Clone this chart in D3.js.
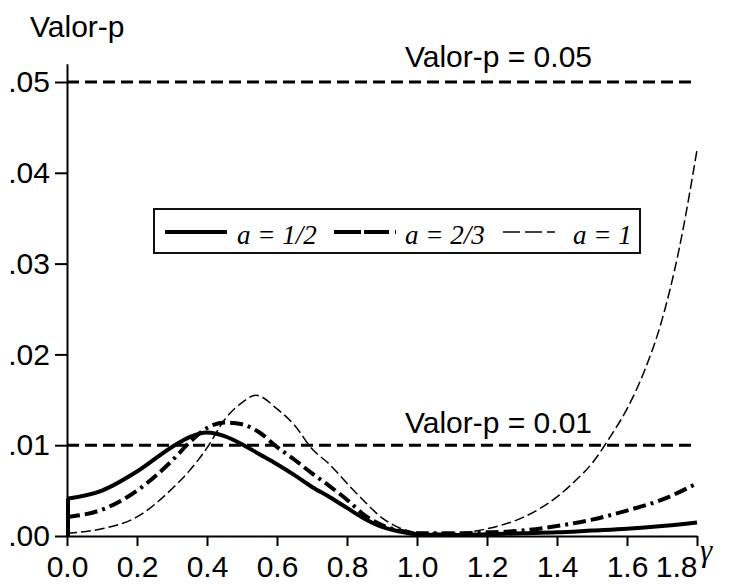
<!DOCTYPE html>
<html>
<head>
<meta charset="utf-8">
<script src="https://cdn.jsdelivr.net/npm/d3@7"></script>
<style>
  body { margin: 0; background: #fff; }
  svg { display: block; }
  .axis text { font-family: 'Liberation Sans', Arial, sans-serif; font-size: 30px; fill: #000; }
  .axis path, .axis line { stroke: #000; stroke-width: 2px; }
  .label { font-family: 'Liberation Sans', Arial, sans-serif; font-size: 30px; fill: #000; }
  .legend text { font-family: 'Liberation Serif', 'Times New Roman', serif; font-style: italic; font-size: 27px; fill: #000; }
</style>
</head>
<body>
<svg id="chart" width="738" height="584"></svg>
<script>
/*
  P-VALUE CURVES
  p-value as a function of gamma for three values of a,
  with the 0.05 and 0.01 reference levels
*/

// [gamma, p-value]
const seriesHalf = [
  [0, 0.0041], [0.1, 0.0050], [0.2, 0.0071], [0.3, 0.0098],
  [0.35, 0.0109], [0.4, 0.0114], [0.45, 0.0110], [0.5, 0.0101], [0.55, 0.0090],
  [0.6, 0.0079], [0.65, 0.0067], [0.7, 0.0054], [0.75, 0.0043], [0.8, 0.0031],
  [0.85, 0.0019], [0.9, 0.0010], [0.95, 0.0005], [1.0, 0.0002], [1.1, 0.0001],
  [1.2, 0.0002], [1.3, 0.0003], [1.4, 0.0004], [1.5, 0.0006], [1.6, 0.0008],
  [1.7, 0.0011], [1.8, 0.0015]
];

const seriesTwoThirds = [
  [0, 0.0021], [0.1, 0.0029], [0.2, 0.0050], [0.3, 0.0083],
  [0.35, 0.0103], [0.4, 0.0119], [0.45, 0.0125], [0.5, 0.0123], [0.55, 0.0114],
  [0.6, 0.0098], [0.65, 0.0084], [0.7, 0.0069], [0.75, 0.0055], [0.8, 0.0040],
  [0.85, 0.0023], [0.9, 0.0012], [0.95, 0.0006], [1.0, 0.0003], [1.1, 0.0003],
  [1.2, 0.0004], [1.3, 0.0006], [1.4, 0.0011], [1.5, 0.0018], [1.6, 0.0028],
  [1.7, 0.0040], [1.8, 0.0058]
];

const seriesOne = [
  [0, 0.0003], [0.1, 0.0008], [0.2, 0.0021], [0.3, 0.0052], [0.35, 0.0072],
  [0.4, 0.0097], [0.45, 0.0128], [0.5, 0.0147], [0.54, 0.0155], [0.6, 0.0140],
  [0.65, 0.0122], [0.7, 0.0096], [0.75, 0.0079], [0.8, 0.0058], [0.85, 0.0038],
  [0.9, 0.0020], [0.95, 0.0009], [1.0, 0.0004], [1.1, 0.0003], [1.2, 0.0008],
  [1.3, 0.0020], [1.35, 0.0030], [1.4, 0.0043], [1.45, 0.0060], [1.5, 0.0080],
  [1.55, 0.0108], [1.6, 0.0140], [1.65, 0.0182], [1.7, 0.0238], [1.75, 0.0318],
  [1.8, 0.0425]
];

const xTicks = [0, 0.2, 0.4, 0.6, 0.8, 1.0, 1.2, 1.4, 1.6, 1.8];
const yTicks = [0, 0.01, 0.02, 0.03, 0.04, 0.05];
const refLevels = [0.05, 0.01];
const refLabels = ['Valor-p = 0.05', 'Valor-p = 0.01'];
const legendLabels = ['a = 1/2', 'a = 2/3', 'a = 1'];

const margin = { left: 67, right: 41 };
const WIDTH = 738;

/**
 * Scales
 */
const scale = {};
scale.x = d3.scaleLinear()
  .domain([0, 1.8])
  .range([margin.left, WIDTH - margin.right]);

scale.y = d3.scaleLinear()
  .domain([0, 0.052])
  .range([536, 536 - 0.052 * 9080]);

const dom = {};
dom.svg = d3.select('#chart');

/*
 * Axes
 */
const axis = {};
axis.x = d3.axisBottom(scale.x)
  .tickValues(xTicks)
  .tickSize(10)
  .tickSizeOuter(0)
  .tickPadding(10)
  .tickFormat(d3.format('.1f'));

axis.y = d3.axisLeft(scale.y)
  .tickValues(yTicks)
  .tickSize(12)
  .tickSizeOuter(0)
  .tickPadding(5)
  .tickFormat(d => d3.format('.2f')(d).replace(/^0/, ''));

dom.xAxis = dom.svg.append('g')
  .attr('class', 'axis')
  .attr('transform', `translate(0, ${scale.y(0)})`)
  .call(axis.x);

// last label sits inside the axis end, as in the original
dom.xAxis.selectAll('.tick text')
  .filter(d => d === 1.8)
  .attr('text-anchor', 'end');

dom.yAxis = dom.svg.append('g')
  .attr('class', 'axis')
  .attr('transform', `translate(${margin.left}, 0)`)
  .call(axis.y);

dom.svg.selectAll('.axis .domain').attr('fill', 'none');

// axis titles
dom.svg.append('text')
  .attr('class', 'label')
  .attr('x', 30)
  .attr('y', 37)
  .text('Valor-p');

dom.svg.append('text')
  .attr('x', 700)
  .attr('y', 561)
  .attr('font-family', "'Liberation Serif', serif")
  .attr('font-style', 'italic')
  .attr('font-size', 31)
  .text('γ');

/*
 * Reference levels
 */
dom.svg.selectAll('.ref')
  .data(refLevels)
  .join('line')
  .attr('class', 'ref')
  .attr('x1', scale.x(0))
  .attr('x2', scale.x(1.8))
  .attr('y1', d => scale.y(d))
  .attr('y2', d => scale.y(d))
  .attr('stroke', '#000')
  .attr('stroke-width', 3)
  .attr('stroke-dasharray', '12,6');

dom.svg.selectAll('.refLabel')
  .data(refLevels)
  .join('text')
  .attr('class', 'label refLabel')
  .attr('x', 592)
  .attr('y', (d, i) => scale.y(d) - (i === 0 ? 15 : 12))
  .attr('text-anchor', 'end')
  .text((d, i) => refLabels[i]);

/*
 * Curves
 */
const line = d3.line()
  .x(d => scale.x(d[0]))
  .y(d => scale.y(d[1]))
  .curve(d3.curveMonotoneX);

const styles = [
  { width: 4, dash: null, legendDash: null },
  { width: 4, dash: '13,5,13,5,3,5', legendDash: '27,3,25,6,4,100' },
  { width: 1.5, dash: '10,4', legendDash: '17,5' }
];

[seriesHalf, seriesTwoThirds, seriesOne].forEach((s, i) => {
  // drop from the first value down to zero at gamma = 0
  dom.svg.append('line')
    .attr('x1', scale.x(s[0][0]) + 1)
    .attr('x2', scale.x(s[0][0]) + 1)
    .attr('y1', scale.y(0))
    .attr('y2', scale.y(s[0][1]))
    .attr('stroke', '#000')
    .attr('stroke-width', styles[i].width);

  dom.svg.append('path')
    .datum(s)
    .attr('d', line)
    .attr('fill', 'none')
    .attr('stroke', '#000')
    .attr('stroke-width', styles[i].width)
    .attr('stroke-dasharray', styles[i].dash);
});

/*
 * Legend
 */
dom.legend = dom.svg.append('g').attr('class', 'legend');

dom.legend.append('rect')
  .attr('x', 154)
  .attr('y', 209)
  .attr('width', 486)
  .attr('height', 44)
  .attr('fill', '#fff')
  .attr('stroke', '#111')
  .attr('stroke-width', 2);

const legendX = [165, 334, 503];
const legendLen = [62, 62, 52];
const legendTextX = [237, 405, 573];

legendLabels.forEach((lab, i) => {
  dom.legend.append('line')
    .attr('x1', legendX[i])
    .attr('x2', legendX[i] + legendLen[i])
    .attr('y1', 232)
    .attr('y2', 232)
    .attr('stroke', '#000')
    .attr('stroke-width', styles[i].width)
    .attr('stroke-dasharray', styles[i].legendDash);

  dom.legend.append('text')
    .attr('x', legendTextX[i])
    .attr('y', 244)
    .text(lab);
});
</script>
</body>
</html>
